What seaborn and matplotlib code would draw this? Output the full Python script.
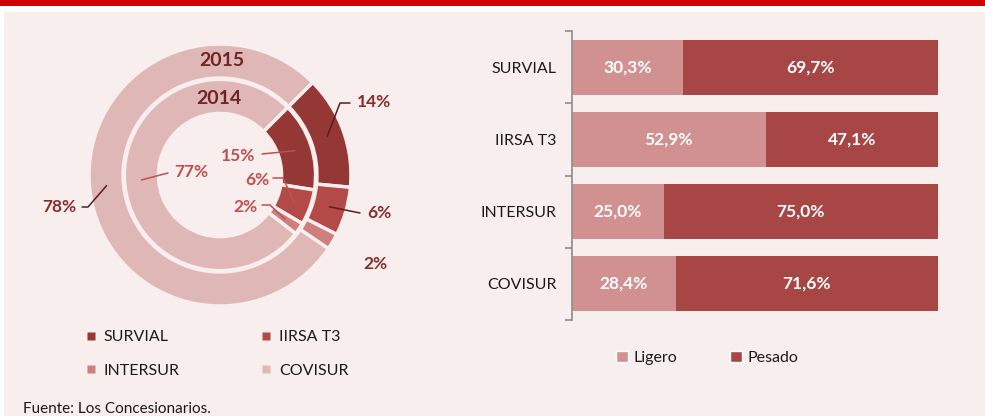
import matplotlib
matplotlib.use('Agg')
import matplotlib.pyplot as plt
import seaborn as sns
import pandas as pd
import numpy as np
from matplotlib.patches import Rectangle, Patch
from matplotlib.lines import Line2D

# ---------------- data ----------------
companies = ['SURVIAL', 'IIRSA T3', 'INTERSUR', 'COVISUR']
share_2015 = [14, 6, 2, 78]
share_2014 = [15, 6, 2, 77]
year_labels = ['2015', '2014']

bar_cats = ['SURVIAL', 'IIRSA T3', 'INTERSUR', 'COVISUR']
ligero = [30.3, 52.9, 25.0, 28.4]
pesado = [69.7, 47.1, 75.0, 71.6]
series_names = ['Ligero', 'Pesado']
source_text = 'Fuente: Los Concesionarios.'

# ---------------- style ----------------
ring_colors = ['#953735', '#B34A48', '#CD7F7E', '#DFB7B6']
ligero_c = '#D09190'
pesado_c = '#A84545'
pink = '#F9EEEE'
outer_lbl_c = '#8A2C2C'
inner_lbl_c = '#C0504D'
year_c = '#6E2424'

sns.set_theme(style='white')
plt.rcParams['font.family'] = ['Lato', 'DejaVu Sans']

W, H = 985, 416
fig = plt.figure(figsize=(W / 100, H / 100), dpi=100)
fig.patch.set_facecolor('white')

def fx(px):
    return px / W

def fy(py):
    return 1 - py / H

# background panel and red band
fig.patches.append(Rectangle((fx(4), 0), 1 - fx(4), fy(12), transform=fig.transFigure,
                             facecolor=pink, edgecolor='none', zorder=-10))
fig.patches.append(Rectangle((0, fy(6)), 1, 6 / H, transform=fig.transFigure,
                             facecolor='#CF0000', edgecolor='none', zorder=-10))

# ---------------- donut ----------------
CX, CY, R = 220, 175, 131
ax1 = fig.add_axes([fx(CX - 160), fy(CY + 160), 320 / W, 320 / H])
ax1.set_facecolor('none')
start = 45
ax1.pie(share_2015, radius=1.0, startangle=start, counterclock=False, colors=ring_colors,
        wedgeprops=dict(width=0.26, edgecolor=pink, linewidth=2.5))
ax1.pie(share_2014, radius=0.73, startangle=start, counterclock=False, colors=ring_colors,
        wedgeprops=dict(width=0.26, edgecolor=pink, linewidth=2.5))
ax1.set_xlim(-160 / R, 160 / R)
ax1.set_ylim(-160 / R, 160 / R)
ax1.axis('off')

def d(px, py):
    return ((px - CX) / R, (CY - py) / R)

def mids(vals):
    cum = np.concatenate([[0], np.cumsum(vals)])
    tot = cum[-1]
    return [np.deg2rad(start - 360 * (cum[i] + cum[i + 1]) / 2 / tot) for i in range(len(vals))]

def anchor(ang, r):
    return (r * np.cos(ang), r * np.sin(ang))

m15 = mids(share_2015)
m14 = mids(share_2014)
lbl_kw = dict(fontsize=12.5, fontweight='bold', va='center')

# outer ring labels (2015)
outer_layout = [
    dict(path=[(340, 103), (350, 103)], txt=(357, 102), ha='left'),
    dict(path=[(360, 213)], txt=(367, 213), ha='left'),
    dict(path=None, txt=(375, 264), ha='center'),
    dict(path=[(88, 207), (82, 207)], txt=(76, 207), ha='right'),
]
for i, lay in enumerate(outer_layout):
    if lay['path'] is not None:
        pts = [anchor(m15[i], 0.87)] + [d(*p) for p in lay['path']]
        ax1.plot([p[0] for p in pts], [p[1] for p in pts], color='#5A1E1E', lw=1.1, clip_on=False)
    tx, ty = d(*lay['txt'])
    ax1.text(tx, ty, f'{share_2015[i]}%', ha=lay['ha'], color=outer_lbl_c, clip_on=False, **lbl_kw)

# inner ring labels (2014)
inner_layout = [
    dict(path=[(262, 154)], txt=(255, 156), ha='right'),
    dict(path=[(283, 178), (273, 178)], txt=(269, 180), ha='right'),
    dict(path=[(270, 205), (262, 205)], txt=(257, 207), ha='right'),
    dict(path=[(168, 173)], txt=(174, 172), ha='left'),
]
for i, lay in enumerate(inner_layout):
    pts = [anchor(m14[i], 0.60)] + [d(*p) for p in lay['path']]
    ax1.plot([p[0] for p in pts], [p[1] for p in pts], color=inner_lbl_c, lw=1.1, clip_on=False)
    tx, ty = d(*lay['txt'])
    ax1.text(tx, ty, f'{share_2014[i]}%', ha=lay['ha'], color=inner_lbl_c, clip_on=False, **lbl_kw)

# year labels
ax1.text(*d(222, 60), year_labels[0], ha='center', va='center', fontsize=14,
         fontweight='bold', color=year_c)
ax1.text(*d(219, 99), year_labels[1], ha='center', va='center', fontsize=14,
         fontweight='bold', color=year_c)

# donut legend (row-wise order)
order = [0, 2, 1, 3]
handles = [Line2D([], [], marker='s', linestyle='none', markersize=5.5,
                  markerfacecolor=ring_colors[k], markeredgecolor='none') for k in order]
fig.legend(handles, [companies[k] for k in order], ncol=2, loc='center left',
           bbox_to_anchor=(fx(72), fy(354)), frameon=False, fontsize=11.5,
           handlelength=0.6, handletextpad=0.5, labelspacing=1.2, columnspacing=5.1,
           labelcolor='#1A1A1A')

# ---------------- stacked bars ----------------
ax2 = fig.add_axes([fx(572), fy(320), 366 / W, 289 / H])
ax2.set_facecolor('none')
df = pd.DataFrame({'cat': bar_cats, 'ligero': ligero, 'pesado': pesado})
df['total'] = df['ligero'] + df['pesado']
sns.barplot(data=df, y='cat', x='total', color=pesado_c, saturation=1, width=0.76,
            orient='h', ax=ax2)
sns.barplot(data=df, y='cat', x='ligero', color=ligero_c, saturation=1, width=0.76,
            orient='h', ax=ax2)
for p in ax2.patches:
    p.set_edgecolor('none')
ax2.set_xlim(0, 100)
ax2.set_ylim(3.5, -0.5)
ax2.set_xlabel('')
ax2.set_ylabel('')
ax2.set_xticks([])
for s in ['top', 'right', 'bottom']:
    ax2.spines[s].set_visible(False)
ax2.spines['left'].set_color('#8C8C8C')
ax2.spines['left'].set_linewidth(1.2)
ax2.set_yticks(range(len(bar_cats)))
ax2.set_yticklabels(bar_cats, fontsize=11.5, color='#1A1A1A')
ax2.tick_params(axis='y', which='major', left=True, length=0, pad=11)
ax2.set_yticks(np.arange(-0.5, len(bar_cats), 1), minor=True)
ax2.tick_params(axis='y', which='minor', left=True, length=5, width=1.2, color='#8C8C8C',
                direction='out')

for i in range(len(bar_cats)):
    ax2.text(ligero[i] / 2, i, f'{ligero[i]:.1f}%'.replace('.', ','), ha='center', va='center',
             color='white', fontsize=12.5, fontweight='bold')
    ax2.text(ligero[i] + pesado[i] / 2, i, f'{pesado[i]:.1f}%'.replace('.', ','), ha='center',
             va='center', color='white', fontsize=12.5, fontweight='bold')

fig.legend([Patch(facecolor=ligero_c), Patch(facecolor=pesado_c)], series_names, ncol=2,
           loc='center left', bbox_to_anchor=(fx(602), fy(358)), frameon=False, fontsize=11.5,
           handlelength=0.7, handleheight=0.7, handletextpad=0.4, columnspacing=3.3,
           labelcolor='#1A1A1A')

fig.text(fx(23), fy(409), source_text, fontsize=11, va='center', ha='left', color='#1A1A1A')

fig.savefig('out.png', dpi=100, facecolor=fig.get_facecolor())
